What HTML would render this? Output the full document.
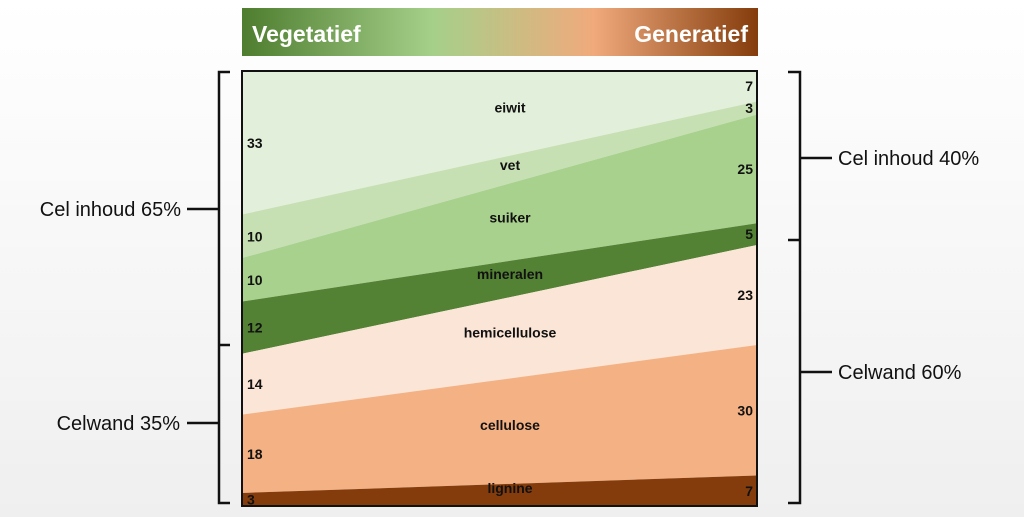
<!DOCTYPE html>
<html><head><meta charset="utf-8"><style>
body{margin:0;width:1024px;height:517px;overflow:hidden;background:linear-gradient(#fff,#efefef);font-family:"Liberation Sans",sans-serif}
</style></head><body>
<svg id="c" width="1024" height="517">
<defs><linearGradient id="g" x1="0" x2="1"><stop offset="0" stop-color="#4e7d2f"/><stop offset="0.37" stop-color="#a5d08a"/><stop offset="0.68" stop-color="#f0aa7c"/><stop offset="1" stop-color="#843c0c"/></linearGradient></defs>
<rect x="242" y="8" width="516" height="48" fill="url(#g)"/>
<text x="252" y="42" font-size="23" font-weight="bold" fill="#fff">Vegetatief</text>
<text x="748" y="42" font-size="23" font-weight="bold" fill="#fff" text-anchor="end">Generatief</text>
<g id="areas"></g>
<rect x="242" y="71" width="515" height="435" fill="none" stroke="#111" stroke-width="2"/>
<g fill="none" stroke="#111" stroke-width="2.5">
<path d="M230 72 H219 V345 H230 M219 209 H187 M219 345 V503 H230 M219 423 H187"/>
<path d="M788 72 H800 V240 H788 M800 158 H832 M800 240 V503 H788 M800 372 H832"/>
</g>
<g font-size="20" fill="#111">
<text x="181" y="216" text-anchor="end">Cel inhoud 65%</text>
<text x="180" y="430" text-anchor="end">Celwand 35%</text>
<text x="838" y="165">Cel inhoud 40%</text>
<text x="838" y="379">Celwand 60%</text>
</g>
</svg>
<script>
const names=["eiwit","vet","suiker","mineralen","hemicellulose","cellulose","lignine"];
const leftVals=[33,10,10,12,14,18,3];
const rightVals=[7,3,25,5,23,30,7];
const colors=["#e2efda","#c6e0b4","#a9d18e","#548235","#fbe5d6","#f4b183","#843c0c"];
const X0=242,X1=757,Y0=71,Y1=506;
const y=v=>Y0+(Y1-Y0)*v/100;
const g=document.getElementById('areas');
const ns="http://www.w3.org/2000/svg";
let cl=0,cr=0;
names.forEach((n,i)=>{
 const l0=cl,r0=cr;cl+=leftVals[i];cr+=rightVals[i];
 const p=document.createElementNS(ns,'polygon');
 p.setAttribute('points',`${X0},${y(l0)} ${X1},${y(r0)} ${X1},${y(cr)} ${X0},${y(cl)}`);
 p.setAttribute('fill',colors[i]);
 
 
 g.appendChild(p);
 const mk=(x,yy,t,anchor,nm,fs)=>{const e=document.createElementNS(ns,'text');e.setAttribute('x',x);e.setAttribute('y',yy);e.setAttribute('text-anchor',anchor);e.setAttribute('font-size',fs);e.setAttribute('font-weight','bold');e.setAttribute('fill','#111');e.textContent=t;
 
 
 g.appendChild(e);};
 const mid=(y(l0)+y(cl)+y(r0)+y(cr))/4;
 mk(510,mid-2,n,'middle','label-'+n,'14');
 mk(247,(y(l0)+y(cl))/2+5,leftVals[i],'start','left-value-'+n,'14');
 mk(753,(y(r0)+y(cr))/2+5,rightVals[i],'end','right-value-'+n,'14');
});
</script>
</body></html>
